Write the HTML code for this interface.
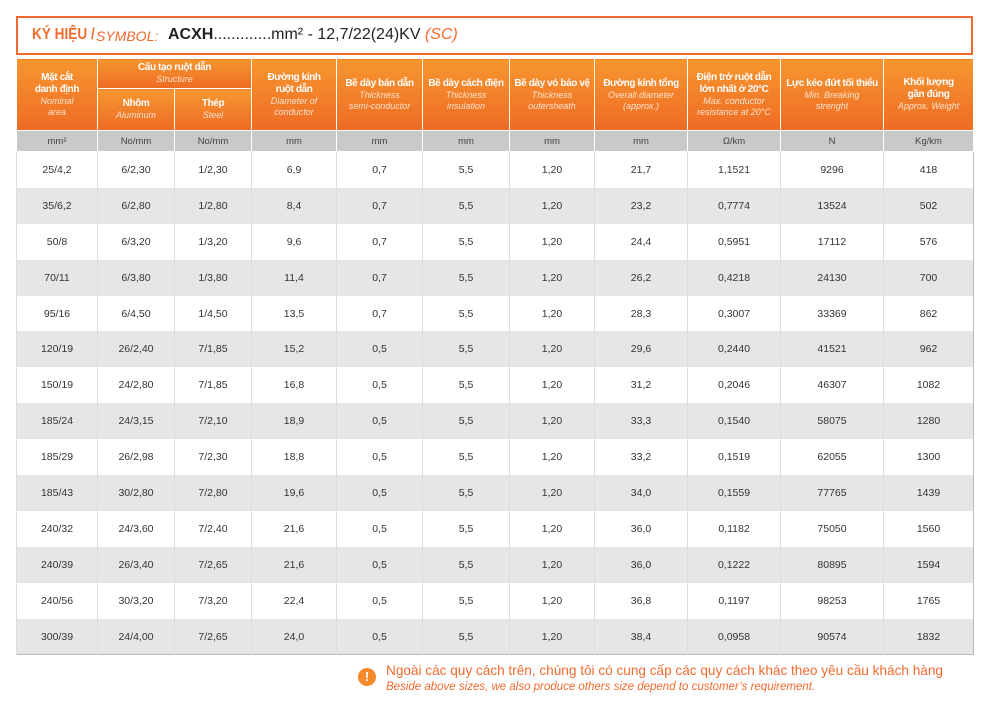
<!DOCTYPE html><html><head><meta charset="utf-8"><style>
body{margin:0;width:1000px;height:701px;background:#fff;font-family:"Liberation Sans","DejaVu Sans",sans-serif;position:relative;overflow:hidden}
.title{position:absolute;left:16px;top:16px;width:953px;height:35px;border:2px solid #f26a2e;box-sizing:content-box}
.title span{position:absolute;top:8px;white-space:nowrap}
table{position:absolute;left:16px;top:58px;border-collapse:collapse;table-layout:fixed;width:957px;border:1px solid #bbb}
th{background:linear-gradient(#f7962f,#ee6b25);color:#fff;font-weight:bold;font-size:10px;line-height:12px;border:1px solid #fff;padding:0;text-align:center;white-space:nowrap;letter-spacing:-0.4px}
th i{font-weight:normal;font-size:9px;color:#fde3cc;display:block;line-height:11px;letter-spacing:0}
td{text-align:center;font-size:10.5px;color:#333;height:35.9px;padding:0;border-left:1px solid #ddd}
tr.u td{background:#c9c9c9;height:20px;border:1px solid #fff;font-size:9.5px;color:#444}
tr.g td{background:#e6e6e6}
.note{position:absolute;left:386px;top:663px;color:#f26a2e;font-size:13.6px;white-space:nowrap}
</style></head><body>
<div class="title">
<span style="left:14px;color:#f26a2e;font-weight:bold;font-size:16px;top:8px;transform:scaleX(.85);transform-origin:left">KÝ HIỆU /</span>
<span style="left:78px;color:#f26a2e;font-style:italic;font-size:14px;top:10px">SYMBOL:</span>
<span style="left:150px;font-size:16px;top:8px;color:#222"><b>ACXH</b>.............mm² - 12,7/22(24)KV <i style="color:#f26a2e">(SC)</i></span>
</div>
<table>
<colgroup><col style="width:81px"><col style="width:77px"><col style="width:77px"><col style="width:85px"><col style="width:86px"><col style="width:87px"><col style="width:85px"><col style="width:93px"><col style="width:93px"><col style="width:103px"><col style="width:90px"></colgroup>
<tr style="height:30px"><th rowspan="2">Mặt cắt<br>danh định<i>Nominal<br>area</i></th><th colspan="2">Cấu tạo ruột dẫn<i>Structure</i></th><th rowspan="2">Đường kính<br>ruột dẫn<i>Diameter of<br>conductor</i></th><th rowspan="2">Bề dày bán dẫn<i>Thickness<br>semi-conductor</i></th><th rowspan="2">Bề dày cách điện<i>Thickness<br>insulation</i></th><th rowspan="2">Bề dày vỏ bảo vệ<i>Thickness<br>outersheath</i></th><th rowspan="2">Đường kính tổng<i>Overall diameter<br>(approx.)</i></th><th rowspan="2">Điện trở ruột dẫn<br>lớn nhất ở 20°C<i>Max. conductor<br>resistance at 20°C</i></th><th rowspan="2">Lực kéo đứt tối thiểu<i>Min. Breaking<br>strenght</i></th><th rowspan="2">Khối lượng<br>gần đúng<i>Approx. Weight</i></th></tr>
<tr style="height:42px"><th>Nhôm<i>Aluminum</i></th><th>Thép<i>Steel</i></th></tr>
<tr class="u"><td>mm²</td><td>No/mm</td><td>No/mm</td><td>mm</td><td>mm</td><td>mm</td><td>mm</td><td>mm</td><td>Ω/km</td><td>N</td><td>Kg/km</td></tr>
<tr><td>25/4,2</td><td>6/2,30</td><td>1/2,30</td><td>6,9</td><td>0,7</td><td>5,5</td><td>1,20</td><td>21,7</td><td>1,1521</td><td>9296</td><td>418</td></tr>
<tr class="g"><td>35/6,2</td><td>6/2,80</td><td>1/2,80</td><td>8,4</td><td>0,7</td><td>5,5</td><td>1,20</td><td>23,2</td><td>0,7774</td><td>13524</td><td>502</td></tr>
<tr><td>50/8</td><td>6/3,20</td><td>1/3,20</td><td>9,6</td><td>0,7</td><td>5,5</td><td>1,20</td><td>24,4</td><td>0,5951</td><td>17112</td><td>576</td></tr>
<tr class="g"><td>70/11</td><td>6/3,80</td><td>1/3,80</td><td>11,4</td><td>0,7</td><td>5,5</td><td>1,20</td><td>26,2</td><td>0,4218</td><td>24130</td><td>700</td></tr>
<tr><td>95/16</td><td>6/4,50</td><td>1/4,50</td><td>13,5</td><td>0,7</td><td>5,5</td><td>1,20</td><td>28,3</td><td>0,3007</td><td>33369</td><td>862</td></tr>
<tr class="g"><td>120/19</td><td>26/2,40</td><td>7/1,85</td><td>15,2</td><td>0,5</td><td>5,5</td><td>1,20</td><td>29,6</td><td>0,2440</td><td>41521</td><td>962</td></tr>
<tr><td>150/19</td><td>24/2,80</td><td>7/1,85</td><td>16,8</td><td>0,5</td><td>5,5</td><td>1,20</td><td>31,2</td><td>0,2046</td><td>46307</td><td>1082</td></tr>
<tr class="g"><td>185/24</td><td>24/3,15</td><td>7/2,10</td><td>18,9</td><td>0,5</td><td>5,5</td><td>1,20</td><td>33,3</td><td>0,1540</td><td>58075</td><td>1280</td></tr>
<tr><td>185/29</td><td>26/2,98</td><td>7/2,30</td><td>18,8</td><td>0,5</td><td>5,5</td><td>1,20</td><td>33,2</td><td>0,1519</td><td>62055</td><td>1300</td></tr>
<tr class="g"><td>185/43</td><td>30/2,80</td><td>7/2,80</td><td>19,6</td><td>0,5</td><td>5,5</td><td>1,20</td><td>34,0</td><td>0,1559</td><td>77765</td><td>1439</td></tr>
<tr><td>240/32</td><td>24/3,60</td><td>7/2,40</td><td>21,6</td><td>0,5</td><td>5,5</td><td>1,20</td><td>36,0</td><td>0,1182</td><td>75050</td><td>1560</td></tr>
<tr class="g"><td>240/39</td><td>26/3,40</td><td>7/2,65</td><td>21,6</td><td>0,5</td><td>5,5</td><td>1,20</td><td>36,0</td><td>0,1222</td><td>80895</td><td>1594</td></tr>
<tr><td>240/56</td><td>30/3,20</td><td>7/3,20</td><td>22,4</td><td>0,5</td><td>5,5</td><td>1,20</td><td>36,8</td><td>0,1197</td><td>98253</td><td>1765</td></tr>
<tr class="g"><td>300/39</td><td>24/4,00</td><td>7/2,65</td><td>24,0</td><td>0,5</td><td>5,5</td><td>1,20</td><td>38,4</td><td>0,0958</td><td>90574</td><td>1832</td></tr>
</table>
<div style="position:absolute;left:358px;top:668px;width:18px;height:18px;border-radius:50%;background:#f58a2a;color:#fff;font-weight:bold;font-size:13px;text-align:center;line-height:18px">!</div>
<div class="note">Ngoài các quy cách trên, chúng tôi có cung cấp các quy cách khác theo yêu cầu khách hàng<br><i style="font-size:11.5px">Beside above sizes, we also produce others size depend to customer’s requirement.</i></div>
</body></html>
